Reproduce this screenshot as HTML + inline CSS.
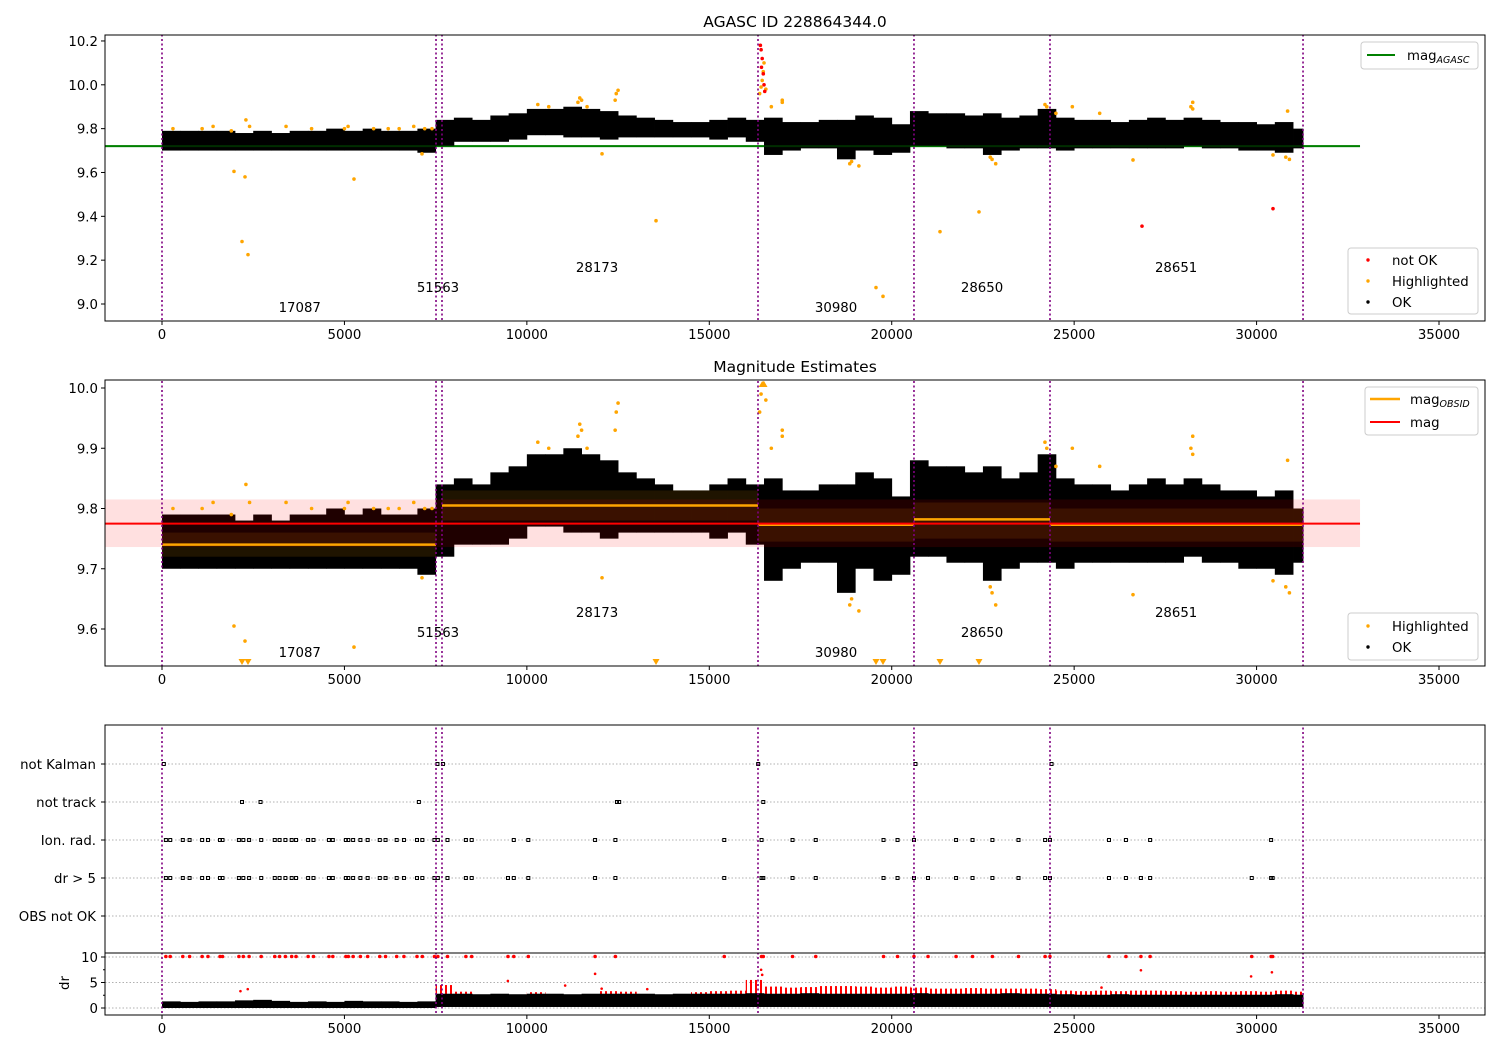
<!DOCTYPE html>
<html><head><meta charset="utf-8"><style>
body{margin:0;background:#fff}
svg{display:block;font-family:"DejaVu Sans","Liberation Sans",sans-serif}
</style></head><body>
<svg id="chart" width="1500" height="1050" viewBox="0 0 1500 1050" xmlns="http://www.w3.org/2000/svg">
<defs>
<clipPath id="c1"><rect x="105" y="35" width="1380" height="286"/></clipPath>
<clipPath id="c2"><rect x="105" y="380" width="1380" height="286"/></clipPath>
<clipPath id="c3"><rect x="105" y="725" width="1380" height="290"/></clipPath>
<pattern id="redStripes" width="5" height="10" patternUnits="userSpaceOnUse"><rect x="0" y="0" width="2" height="10" fill="#ff0000"/></pattern>
</defs>
<rect width="1500" height="1050" fill="#fff"/>
<text x="795" y="27" font-size="15.5" text-anchor="middle">AGASC ID 228864344.0</text>
<text x="795" y="372" font-size="15.5" text-anchor="middle">Magnitude Estimates</text>
<g id="p1" clip-path="url(#c1)"></g>
<g id="p2" clip-path="url(#c2)"></g>
<g id="p3" clip-path="url(#c3)"></g>
<g id="axes"></g>
</svg>
<script>
// ---- data ----
const binStart=[0,500,1000,1500,2000,2500,3000,3500,4000,4500,5000,5500,6000,6500,7000,7500,8000,8500,9000,9500,10000,10500,11000,11500,12000,12500,13000,13500,14000,14500,15000,15500,16000,16500,17000,17500,18000,18500,19000,19500,20000,20500,21000,21500,22000,22500,23000,23500,24000,24500,25000,25500,26000,26500,27000,27500,28000,28500,29000,29500,30000,30500,31000];
const magHi=[9.79,9.79,9.79,9.79,9.78,9.79,9.78,9.79,9.79,9.80,9.79,9.80,9.79,9.79,9.80,9.84,9.85,9.84,9.86,9.87,9.89,9.89,9.90,9.89,9.88,9.86,9.85,9.84,9.83,9.83,9.84,9.85,9.84,9.85,9.83,9.83,9.84,9.84,9.86,9.85,9.82,9.88,9.87,9.87,9.86,9.87,9.85,9.86,9.89,9.85,9.84,9.84,9.83,9.84,9.85,9.84,9.85,9.84,9.83,9.83,9.82,9.83,9.80];
const magLo=[9.70,9.70,9.70,9.70,9.70,9.70,9.70,9.70,9.70,9.70,9.70,9.70,9.70,9.70,9.69,9.72,9.74,9.74,9.74,9.75,9.77,9.77,9.76,9.76,9.75,9.76,9.76,9.76,9.76,9.76,9.75,9.76,9.74,9.68,9.70,9.71,9.71,9.66,9.70,9.68,9.69,9.72,9.72,9.71,9.71,9.68,9.70,9.71,9.71,9.70,9.71,9.71,9.71,9.71,9.71,9.71,9.72,9.71,9.71,9.70,9.70,9.69,9.71];
const drHi=[1.3,1.2,1.3,1.3,1.5,1.6,1.4,1.2,1.3,1.2,1.4,1.3,1.3,1.2,1.3,2.8,2.8,2.7,2.8,2.7,2.8,2.8,2.7,2.8,2.8,2.8,2.8,2.7,2.8,2.8,2.8,2.8,2.9,2.8,2.8,2.9,2.8,2.8,2.8,2.8,2.8,2.9,2.8,2.8,2.8,2.8,2.9,2.8,2.8,2.7,2.6,2.6,2.7,2.6,2.6,2.6,2.6,2.6,2.6,2.6,2.6,2.7,2.6];
const drLo=[0,0,0,0,0,0,0,0,0,0,0,0,0,0,0,0.2,0.2,0.2,0.2,0.2,0.2,0.2,0.2,0.2,0.2,0.2,0.2,0.2,0.2,0.2,0.2,0.2,0.2,0.2,0.2,0.2,0.2,0.2,0.2,0.2,0.2,0.2,0.2,0.2,0.2,0.2,0.2,0.2,0.2,0.2,0.2,0.2,0.2,0.2,0.2,0.2,0.2,0.2,0.2,0.2,0.2,0.2,0.2];
const drRedHi=[0,0,0,0,0,0,0,0,0,0,0,0,0,0,0,4.5,3.2,0,0,0,3.1,0,0,0,3.3,3.2,0,0,0,3.1,3.3,3.4,5.5,4.2,4.0,4.1,4.3,4.3,4.2,4.0,4.2,4.0,3.8,3.8,3.9,3.8,3.8,3.8,3.7,3.4,3.3,3.4,3.3,3.4,3.4,3.3,3.2,3.3,3.2,3.3,3.2,3.4,3.2];
const hlT=[300,1100,1400,1900,2300,2400,3400,4100,5000,5100,5800,6200,6500,6900,7200,7400,1973,2275,2193,2357,5262,13540,12060,7126,19569,19761,21323,22392,26613,10300,10600,11400,11450,11500,11650,12420,12450,12500,16380,16420,16450,16480,16500,16550,17000,17000,18850,18900,19100,22700,22750,22850,24200,24250,24500,24950,25700,28200,28250,28250,30450,30800,30900,30850,16700];
const hlV=[9.80,9.80,9.81,9.79,9.84,9.81,9.81,9.80,9.80,9.81,9.80,9.80,9.80,9.81,9.80,9.80,9.605,9.58,9.285,9.225,9.57,9.38,9.685,9.685,9.075,9.035,9.33,9.42,9.657,9.91,9.90,9.92,9.94,9.93,9.90,9.93,9.96,9.975,9.96,9.99,10.02,10.06,10.1,9.98,9.92,9.93,9.64,9.65,9.63,9.67,9.66,9.64,9.91,9.90,9.87,9.90,9.87,9.90,9.89,9.92,9.68,9.67,9.66,9.88,9.90];
const badT=[16400,16420,16450,16480,16500,16520,16430,26860,30450];
const badV=[10.18,10.16,10.12,10.05,10.0,9.97,10.08,9.355,9.435];
const obsBreaks=[0,7510,7674,16335,20610,24338,31273];
const obsStart=[0,7674,16335,20610,24338];
const obsEnd=[7510,16335,20610,24338,31273];
const obsMag=[9.74,9.805,9.773,9.782,9.773];
const obsBandLo=[9.72,9.78,9.745,9.75,9.745];
const obsBandHi=[9.76,9.83,9.80,9.81,9.80];
const obsLabels=["17087","51563","28173","30980","28650","28651"];
const obsLabelT=[3720,7510,11870,18420,22420,27740];
const obsLabelLevel=[0,1,2,0,1,2];
const magAgasc=9.72, magMean=9.775, magBandLo=9.736, magBandHi=9.815;
const flagCats=["not Kalman","not track","Ion. rad.","dr > 5","OBS not OK"];
const notKalmanT=[50,7550,7700,16340,20650,24380];
const notTrackT=[2193,2700,7040,12470,12530,16480];
const ionRadT=[106,225,570,756,1100,1260,1590,1658,2108,2228,2387,2719,3090,3223,3382,3554,3674,4005,4151,4576,4682,5040,5106,5239,5438,5637,5968,6127,6432,6631,6989,7135,7467,7560,7825,8329,8488,9642,10040,11870,12427,15411,16432,17281,17918,19775,20159,20610,21764,22215,22759,23475,24204,24337,25955,26419,27082,30398];
const drGt5T=[106,225,570,756,1100,1260,1590,1658,2108,2228,2387,2719,3090,3223,3382,3554,3674,4005,4151,4576,4682,5040,5106,5239,5438,5637,5968,6127,6432,6631,6989,7135,7467,7560,7825,8329,8488,9483,9642,10040,11870,12427,15411,16432,16480,17281,17918,19775,20159,20610,20995,21764,22215,22759,23475,24204,24337,25955,26419,26830,27082,29867,30398,30440];
const drRedT=[2150,2350,9480,11050,11870,12050,13300,25750,26830,29850,30420,16420,16450];
const drRedV=[3.3,3.7,5.3,4.4,6.7,3.8,3.7,4.0,7.4,6.2,7.0,7.5,6.5];
const xTicks=[0,5000,10000,15000,20000,25000,30000,35000];
const y1Ticks=[9.0,9.2,9.4,9.6,9.8,10.0,10.2];
const y2Ticks=[9.6,9.7,9.8,9.9,10.0];
const drTicks=[0,5,10];

// ---- scales ----
const X=t=>162+t*0.036486;
const Y1=v=>304-(v-9)*219.2;
const Y2=v=>629-(v-9.6)*602.5;
const YC=i=>764+38*i;
const YD=d=>1008-d*5.1;
const NS="http://www.w3.org/2000/svg";
function mk(parent,tag,attrs){const e=document.createElementNS(NS,tag);for(const k in attrs)e.setAttribute(k,attrs[k]);parent.appendChild(e);return e;}
const p1=document.getElementById('p1'),p2=document.getElementById('p2'),p3=document.getElementById('p3'),ax=document.getElementById('axes');
const binW=500;

// ---- panel 1 ----
let e=mk(p1,'line',{x1:105,x2:X(32835),y1:Y1(magAgasc),y2:Y1(magAgasc),stroke:'#008000','stroke-width':2});


binStart.forEach((b,i)=>{const w=Math.min(binW,31273-b);
 const r=mk(p1,'rect',{x:X(b),y:Y1(magHi[i]),width:X(b+w)-X(b)+0.4,height:Y1(magLo[i])-Y1(magHi[i]),fill:'#000'});
 
 });
e=mk(p1,'line',{x1:105,x2:X(32835),y1:Y1(magAgasc),y2:Y1(magAgasc),stroke:'#008000','stroke-width':2,'stroke-opacity':0.35});
hlT.forEach((t,i)=>{const c=mk(p1,'circle',{cx:X(t),cy:Y1(hlV[i]),r:1.8,fill:'#ffa500'});
 
 });
badT.forEach((t,i)=>{const c=mk(p1,'circle',{cx:X(t),cy:Y1(badV[i]),r:1.8,fill:'#ff0000'});
 
 });

// ---- panel 2 ----
binStart.forEach((b,i)=>{const w=Math.min(binW,31273-b);
 const r=mk(p2,'rect',{x:X(b),y:Y2(magHi[i]),width:X(b+w)-X(b)+0.4,height:Y2(magLo[i])-Y2(magHi[i]),fill:'#000'});
 
 });
obsStart.forEach((s,i)=>{const r=mk(p2,'rect',{x:X(s),y:Y2(obsBandHi[i]),width:X(obsEnd[i])-X(s),height:Y2(obsBandLo[i])-Y2(obsBandHi[i]),fill:'rgba(255,165,0,0.12)'});
 
 });
e=mk(p2,'rect',{x:105,y:Y2(magBandHi),width:X(32835)-105,height:Y2(magBandLo)-Y2(magBandHi),fill:'rgba(255,0,0,0.12)'});


obsStart.forEach((s,i)=>{const l=mk(p2,'line',{x1:X(s),x2:X(obsEnd[i]),y1:Y2(obsMag[i]),y2:Y2(obsMag[i]),stroke:'#ffa500','stroke-width':2.5});
 
 });
e=mk(p2,'line',{x1:105,x2:X(32835),y1:Y2(magMean),y2:Y2(magMean),stroke:'#ff0000','stroke-width':2});


hlT.forEach((t,i)=>{const v=hlV[i];let c;
 if(v<9.54){const x=X(t),y=663;c=mk(p2,'path',{d:`M${x-3.5},${y-4} L${x+3.5},${y-4} L${x},${y+2}Z`,fill:'#ffa500'});}
 else if(v>10.01){const x=X(t),y=383;c=mk(p2,'path',{d:`M${x-3.5},${y+4} L${x+3.5},${y+4} L${x},${y-2}Z`,fill:'#ffa500'});}
 else c=mk(p2,'circle',{cx:X(t),cy:Y2(v),r:1.8,fill:'#ffa500'});
 
 });

// obsid labels both panels
obsLabels.forEach((s,i)=>{
 const t1=mk(ax,'text',{x:X(obsLabelT[i])+2,y:312-20*obsLabelLevel[i],'font-size':13.3,'text-anchor':'middle'});t1.textContent=s;
 
 
 const t2=mk(ax,'text',{x:X(obsLabelT[i])+2,y:657-20*obsLabelLevel[i],'font-size':13.3,'text-anchor':'middle'});t2.textContent=s;
 
 });

// ---- panel 3 ----
flagCats.forEach((c,i)=>{const l=mk(p3,'line',{x1:105,x2:1485,y1:YC(i),y2:YC(i),stroke:'#b0b0b0','stroke-width':1,'stroke-dasharray':'1.5,2'});
 
 });
drTicks.forEach(d=>{const l=mk(p3,'line',{x1:105,x2:1485,y1:YD(d),y2:YD(d),stroke:'#b0b0b0','stroke-width':1,'stroke-dasharray':'1.5,2'});
 
 });
function flagPts(arr,i){arr.forEach(t=>{const r=mk(p3,'rect',{x:X(t)-1.5,y:YC(i)-1.5,width:3,height:3,fill:'none',stroke:'#000','stroke-width':1});
 
 });}
flagPts(notKalmanT,0);flagPts(notTrackT,1);flagPts(ionRadT,2);flagPts(drGt5T,3);
binStart.forEach((b,i)=>{const w=Math.min(binW,31273-b);
 if(drRedHi[i]>0){const r=mk(p3,'rect',{x:X(b),y:YD(drRedHi[i]),width:X(b+w)-X(b)+0.4,height:YD(drHi[i])-YD(drRedHi[i])+1,fill:'url(#redStripes)'});
  
  }
 const r2=mk(p3,'rect',{x:X(b),y:YD(drHi[i]),width:X(b+w)-X(b)+0.4,height:YD(drLo[i])-YD(drHi[i]),fill:'#000'});
 
 });
drGt5T.forEach(t=>{const c=mk(p3,'circle',{cx:X(t),cy:YD(10)-0.5,r:1.8,fill:'#ff0000'});
 
 });
drRedT.forEach((t,i)=>{const c=mk(p3,'circle',{cx:X(t),cy:YD(drRedV[i]),r:1.3,fill:'#ff0000'});
 
 });

// vertical obsid lines
[p1,p2,p3].forEach(g=>{obsBreaks.forEach(t=>{const l=mk(g,'line',{x1:X(t),x2:X(t),y1:30,y2:1020,stroke:'#800080','stroke-width':1.6,'stroke-dasharray':'2,2.5'});
 
 });});

// ---- axes frames and ticks ----
function frame(y0,h,name){const r=mk(ax,'rect',{x:105,y:y0,width:1380,height:h,fill:'none',stroke:'#000','stroke-width':1});
 
 }
frame(35,286,'axes-frame-agasc');frame(380,286,'axes-frame-mag');frame(725,228,'axes-frame-flags');frame(953,62,'axes-frame-dr');
function xAxis(yb,name){xTicks.forEach(t=>{const x=X(t);mk(ax,'line',{x1:x,x2:x,y1:yb,y2:yb+4,stroke:'#000'});
 const tx=mk(ax,'text',{x:x,y:yb+18,'font-size':13.3,'text-anchor':'middle'});tx.textContent=t;
 
 });}
xAxis(321,'x-tick-label');xAxis(666,'x-tick-label');xAxis(1015,'x-tick-label');
function yAxis(ticks,Y,fmt){ticks.forEach(v=>{const y=Y(v);mk(ax,'line',{x1:101,x2:105,y1:y,y2:y,stroke:'#000'});
 const tx=mk(ax,'text',{x:98,y:y+5,'font-size':13.3,'text-anchor':'end'});tx.textContent=fmt(v);
 
 });}
yAxis(y1Ticks,Y1,v=>v.toFixed(1));yAxis(y2Ticks,Y2,v=>v.toFixed(1));yAxis(drTicks,YD,v=>String(v));
[2.5,7.5].forEach(d=>mk(ax,'line',{x1:103,x2:105,y1:YD(d),y2:YD(d),stroke:'#000'}));
flagCats.forEach((c,i)=>{const y=YC(i);mk(ax,'line',{x1:101,x2:105,y1:y,y2:y,stroke:'#000'});
 const tx=mk(ax,'text',{x:96,y:y+5,'font-size':13.3,'text-anchor':'end'});tx.textContent=c;
 
 });
e=mk(ax,'text',{x:0,y:0,'font-size':13.3,'text-anchor':'middle',transform:'translate(69,983) rotate(-90)'});e.textContent='dr';



// ---- legends ----
function box(x,y,w,h,name){const r=mk(ax,'rect',{x:x,y:y,width:w,height:h,rx:3,fill:'#fff','fill-opacity':0.8,stroke:'#ccc'});
 
 }
function legText(x,y,main,sub,name){const t=mk(ax,'text',{x:x,y:y,'font-size':13.3});t.textContent=main;
 if(sub){const s=mk(t,'tspan',{'font-size':9.5,'font-style':'italic',dy:3});s.textContent=sub;}
 
 }
box(1361,42,117,27,'legend-agasc');
mk(ax,'line',{x1:1367,x2:1395,y1:55,y2:55,stroke:'#008000','stroke-width':2});
legText(1407,60,'mag','AGASC','legend-entry-mag-agasc');
box(1348,248,130,66,'legend-status');
[['#ff0000','not OK',260],['#ffa500','Highlighted',281],['#000','OK',302]].forEach(a=>{mk(ax,'circle',{cx:1368,cy:a[2],r:1.7,fill:a[0]});legText(1392,a[2]+5,a[1],null,'legend-entry');});
box(1365,387,113,48,'legend-mag');
mk(ax,'line',{x1:1370,x2:1400,y1:399,y2:399,stroke:'#ffa500','stroke-width':2.5});
legText(1410,404,'mag','OBSID','legend-entry-mag-obsid');
mk(ax,'line',{x1:1370,x2:1400,y1:422,y2:422,stroke:'#ff0000','stroke-width':2});
legText(1410,427,'mag',null,'legend-entry-mag');
box(1348,613,130,47,'legend-highlight');
[['#ffa500','Highlighted',626],['#000','OK',647]].forEach(a=>{mk(ax,'circle',{cx:1368,cy:a[2],r:1.7,fill:a[0]});legText(1392,a[2]+5,a[1],null,'legend-entry');});
</script>
</body></html>
